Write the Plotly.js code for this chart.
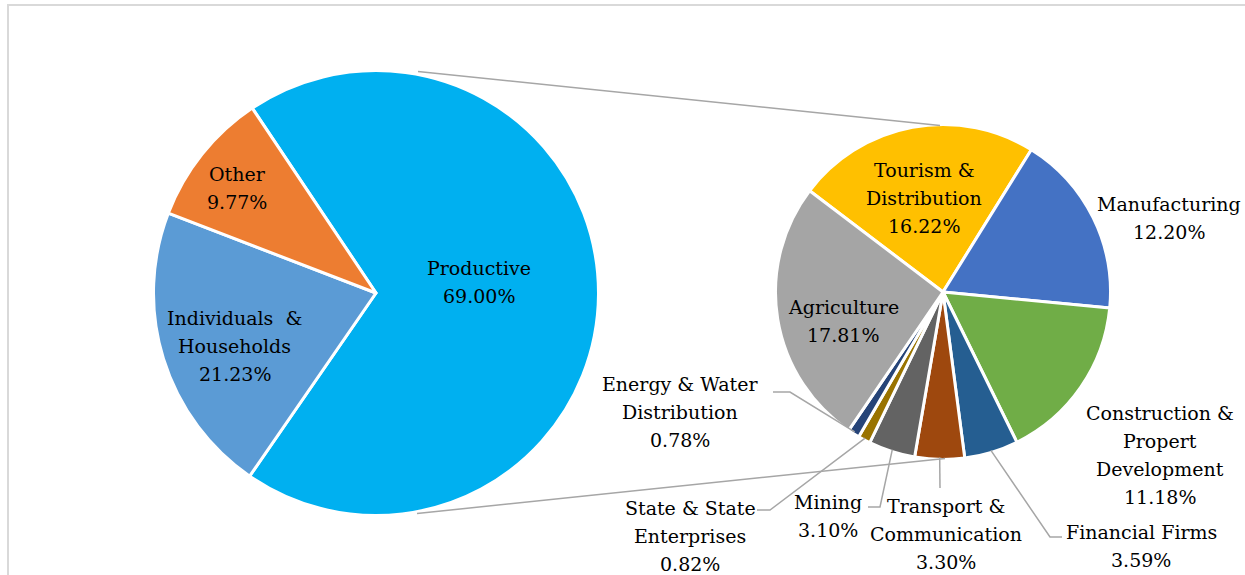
<!DOCTYPE html>
<html>
<head>
<meta charset="utf-8">
<script src="https://cdn.plot.ly/plotly-3.0.1.min.js"></script>
<style>html,body{margin:0;padding:0;background:#fff;}#chart{width:1245px;height:575px;}</style>
</head>
<body>
<div id="chart"></div>
<script>
// ---------- DATA ----------
const mainLabels = ['Productive', 'Individuals  &<br>Households', 'Other'];
const mainValues = [69.00, 21.23, 9.77];

const subLabels = ['Tourism &<br>Distribution', 'Manufacturing', 'Construction &<br>Propert<br>Development',
  'Financial Firms', 'Transport &<br>Communication', 'Mining', 'State & State<br>Enterprises',
  'Energy & Water<br>Distribution', 'Agriculture'];
const subValues = [16.22, 12.20, 11.18, 3.59, 3.30, 3.10, 0.82, 0.78, 17.81];

// ---------- STYLE / LAYOUT ----------
const W = 1245, H = 575;
const mainColors = ['#00B0F0', '#5B9BD5', '#ED7D31'];
const subColors = ['#FFC000', '#4472C4', '#70AD47', '#255E91', '#9E480E', '#636363', '#997300', '#264478', '#A5A5A5'];
const FONT = "DejaVu Serif, serif";
const FS = 19;
const LINE_GAP = 27.7;

// pie geometry (pixels)
const P1 = {cx: 376, cy: 293, r: 222.5, rot: -33.8};
const P2 = {cx: 943, cy: 292, r: 167.5, rot: -52.8};

// label centres (pixels), same order as data
const mainLabelPos = [[479, 282], [235, 346], [237, 188]];
const subLabelPos = [[924, 198], [1169, 218], [1160, 455], [1141, 546], [946, 534], [828, 516], [690, 536], [680, 412], [843, 321]];
// leader line elbows (pixels) for outside labels, index -> points after the pie edge point
const leaders = {
  3: [[1050, 537], [1062, 537]],
  4: [[940, 488]],
  5: [[880, 507], [868, 507]],
  6: [[770, 510], [757, 510]],
  7: [[790, 392], [773, 392]]
};

const X = px => px / W;
const Y = py => 1 - py / H;

function domainOf(p) {
  return {x: [X(p.cx - p.r), X(p.cx + p.r)], y: [Y(p.cy + p.r), Y(p.cy - p.r)]};
}

const traces = [
  {
    type: 'pie', labels: mainLabels, values: mainValues, sort: false, direction: 'clockwise',
    rotation: P1.rot, domain: domainOf(P1), textinfo: 'none', hoverinfo: 'label+percent',
    marker: {colors: mainColors, line: {color: '#ffffff', width: 3}}, showlegend: false
  },
  {
    type: 'pie', labels: subLabels, values: subValues, sort: false, direction: 'clockwise',
    rotation: P2.rot, domain: domainOf(P2), textinfo: 'none', hoverinfo: 'label+value',
    marker: {colors: subColors, line: {color: '#ffffff', width: 3}}, showlegend: false
  }
];

// data labels: one text line per annotation so the line spacing matches the original
const annotations = [];
function addLabels(labels, values, pos) {
  labels.forEach((l, i) => {
    const lines = l.split('<br>').concat([values[i].toFixed(2) + '%']);
    const n = lines.length;
    lines.forEach((t, k) => {
      annotations.push({
        xref: 'paper', yref: 'paper',
        x: X(pos[i][0]), y: Y(pos[i][1] + (k - (n - 1) / 2) * LINE_GAP),
        xanchor: 'center', yanchor: 'middle', showarrow: false, align: 'center',
        text: t, font: {family: FONT, size: FS, color: '#000000'}
      });
    });
  });
}
addLabels(mainLabels, mainValues, mainLabelPos);
addLabels(subLabels, subValues, subLabelPos);

const shapes = [];
const LINE = {color: '#A6A6A6', width: 1.5};
// frame
shapes.push({type: 'line', xref: 'paper', yref: 'paper', x0: X(8), x1: X(8), y0: Y(5), y1: Y(580), line: {color: '#D9D9D9', width: 2}});
shapes.push({type: 'line', xref: 'paper', yref: 'paper', x0: X(7), x1: X(1250), y0: Y(5), y1: Y(5), line: {color: '#D9D9D9', width: 2}});

// connector lines between the two pies
shapes.push({type: 'line', xref: 'paper', yref: 'paper', x0: X(P1.cx + 42), y0: Y(P1.cy - P1.r + 1), x1: X(P2.cx - 3), y1: Y(P2.cy - P2.r + 1), line: LINE});
shapes.push({type: 'line', xref: 'paper', yref: 'paper', x0: X(P1.cx + 41), y0: Y(P1.cy + P1.r - 2), x1: X(P2.cx + 2), y1: Y(P2.cy + P2.r - 1), line: LINE});

// leader lines from slice mid-angle on the secondary pie
const total = subValues.reduce((a, b) => a + b, 0);
let cum = 0;
subValues.forEach((v, i) => {
  const mid = P2.rot + (cum + v / 2) / total * 360;
  cum += v;
  if (!leaders[i]) return;
  const a = mid * Math.PI / 180;
  const rr = P2.r - 2;
  const sx = P2.cx + rr * Math.sin(a), sy = P2.cy - rr * Math.cos(a);
  let path = 'M ' + X(sx) + ' ' + Y(sy);
  leaders[i].forEach(p => { path += ' L ' + X(p[0]) + ' ' + Y(p[1]); });
  shapes.push({type: 'path', xref: 'paper', yref: 'paper', path: path, line: LINE});
});

const layout = {
  width: W, height: H,
  margin: {l: 0, r: 0, t: 0, b: 0},
  paper_bgcolor: '#ffffff', plot_bgcolor: '#ffffff',
  font: {family: FONT, size: FS, color: '#000000'},
  annotations: annotations, shapes: shapes, showlegend: false
};

Plotly.newPlot('chart', traces, layout, {displayModeBar: false, responsive: false});
</script>
</body>
</html>
